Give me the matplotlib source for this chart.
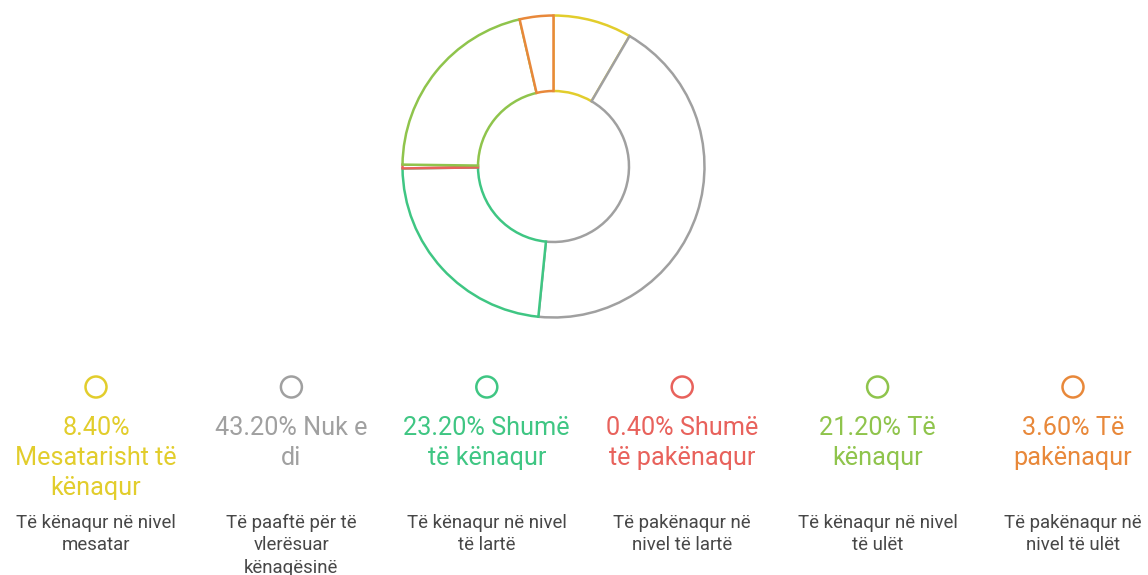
import matplotlib
matplotlib.use("Agg")
import matplotlib.pyplot as plt
from matplotlib.patches import Circle
from matplotlib.font_manager import FontProperties

# ---- data ----
names = ["Mesatarisht të kënaqur", "Nuk e di", "Shumë të kënaqur",
         "Shumë të pakënaqur", "Të kënaqur", "Të pakënaqur"]
values = [8.40, 43.20, 23.20, 0.40, 21.20, 3.60]
descriptions = ["Të kënaqur në nivel mesatar",
                "Të paaftë për të vlerësuar kënaqësinë",
                "Të kënaqur në nivel të lartë",
                "Të pakënaqur në nivel të lartë",
                "Të kënaqur në nivel të ulët",
                "Të pakënaqur në nivel të ulët"]
colors = ["#e2cd2c", "#a0a0a0", "#3fc683", "#e8625c", "#8fc44c", "#e8883a"]

W, H = 1148, 575
DPI = 100
fig = plt.figure(figsize=(W / DPI, H / DPI), dpi=DPI)
fig.patch.set_facecolor("white")

# ---- donut ----
cx, cy, R = 553.5, 166.5, 152.5
ax = fig.add_axes([(cx - R) / W, (H - cy - R) / H, 2 * R / W, 2 * R / H])
ax.pie(values, startangle=90, counterclock=False, radius=1,
       colors=["white"] * len(values),
       wedgeprops=dict(width=0.5, linewidth=1.8, facecolor="white"))
for w, c in zip(ax.patches, colors):
    w.set_edgecolor(c)
ax.set_xlim(-1.01, 1.01)
ax.set_ylim(-1.01, 1.01)
ax.set_aspect("equal")
ax.axis("off")

# ---- legend (pixel overlay) ----
ov = fig.add_axes([0, 0, 1, 1])
ov.set_xlim(0, W)
ov.set_ylim(H, 0)
ov.axis("off")

renderer = fig.canvas.get_renderer()
title_fp = FontProperties(family=["Roboto", "DejaVu Sans"], size=18.2)
desc_fp = FontProperties(family=["Roboto", "DejaVu Sans"], size=13.4)


def wrap(text, fp, maxw):
    words = text.split(" ")
    lines, cur = [], ""
    for wd in words:
        cand = wd if not cur else cur + " " + wd
        wpx = renderer.get_text_width_height_descent(cand, fp, ismath=False)[0]
        if wpx <= maxw or not cur:
            cur = cand
        else:
            lines.append(cur)
            cur = wd
    lines.append(cur)
    return lines


x0, dx = 96, 195.4
for i, (n, v, d, c) in enumerate(zip(names, values, descriptions, colors)):
    x = x0 + dx * i
    ov.add_patch(Circle((x, 387), 10.5, facecolor="white", edgecolor=c, linewidth=1.8))
    tlines = wrap(f"{v:.2f}% {n}", title_fp, 172)
    for j, ln in enumerate(tlines):
        ov.text(x, 435 + 30 * j, ln, ha="center", va="baseline",
                fontproperties=title_fp, color=c)
    dlines = wrap(d, desc_fp, 166)
    for j, ln in enumerate(dlines):
        ov.text(x, 528 + 22.5 * j, ln, ha="center", va="baseline",
                fontproperties=desc_fp, color="#474747")

fig.savefig("out.png", dpi=DPI, facecolor="white")
